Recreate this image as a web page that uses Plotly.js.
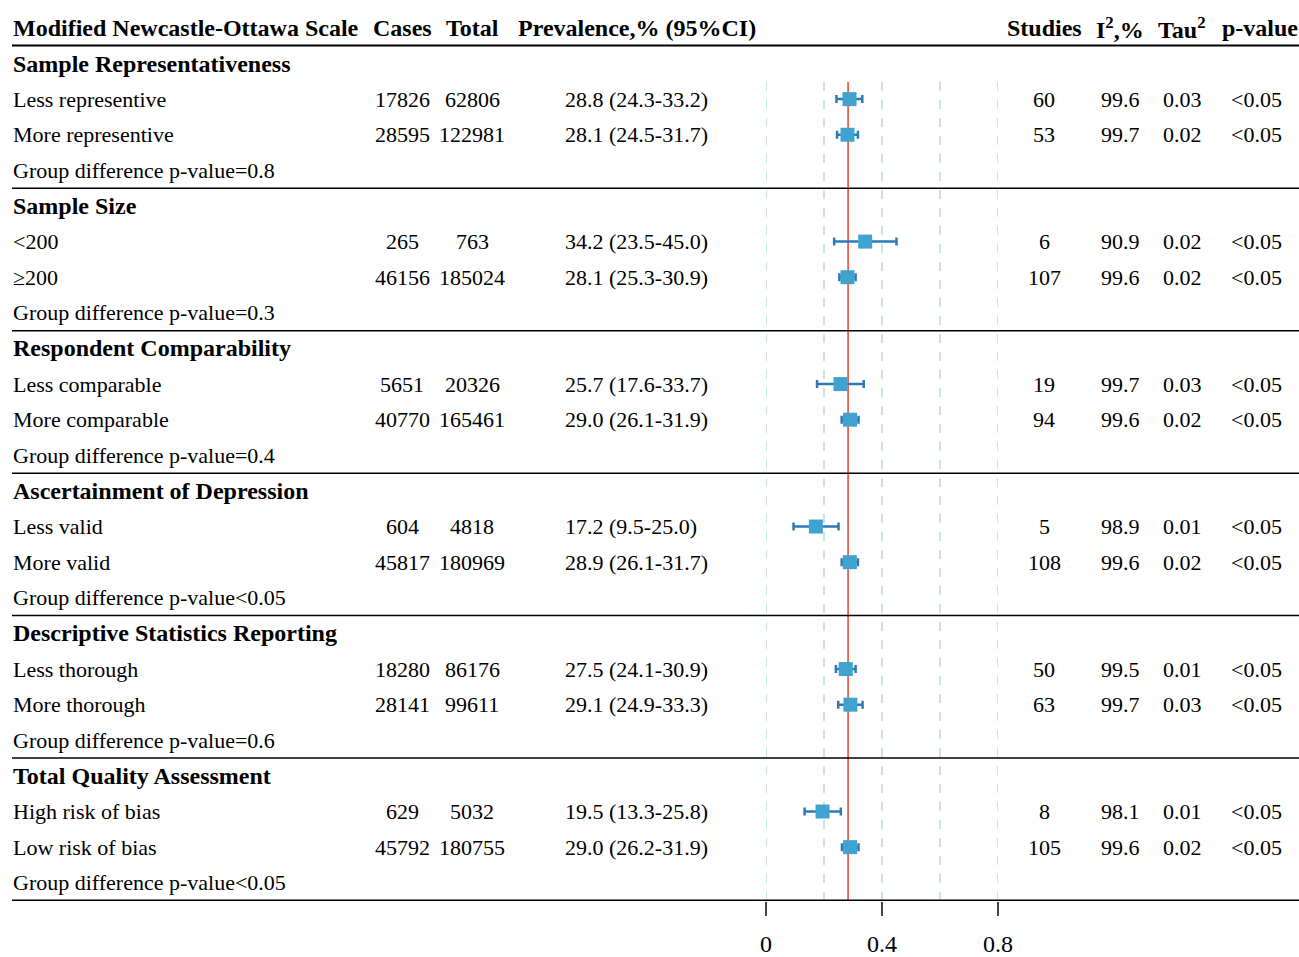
<!DOCTYPE html>
<html>
<head>
<meta charset="utf-8">
<script src="https://cdn.plot.ly/plotly-3.0.1.min.js"></script>
<style>html,body{margin:0;padding:0;background:#fff;}#chart{width:1299px;height:957px;}</style>
</head>
<body>
<div id="chart"></div>
<script>
// ---- data ----
var headers = ["Modified Newcastle-Ottawa Scale", "Cases", "Total", "Prevalence,% (95%CI)", "Studies", "I<sup>2</sup>,%", "Tau<sup>2</sup>", "p-value"];
var groups = ["Sample Representativeness", "Sample Size", "Respondent Comparability", "Ascertainment of Depression", "Descriptive Statistics Reporting", "Total Quality Assessment"];
var subgroups = ["Less representive", "More representive", "<200", "≥200", "Less comparable", "More comparable", "Less valid", "More valid", "Less thorough", "More thorough", "High risk of bias", "Low risk of bias"];
var cases = [17826, 28595, 265, 46156, 5651, 40770, 604, 45817, 18280, 28141, 629, 45792];
var totals = [62806, 122981, 763, 185024, 20326, 165461, 4818, 180969, 86176, 99611, 5032, 180755];
var prevalence = [28.8, 28.1, 34.2, 28.1, 25.7, 29.0, 17.2, 28.9, 27.5, 29.1, 19.5, 29.0];
var ciLow = [24.3, 24.5, 23.5, 25.3, 17.6, 26.1, 9.5, 26.1, 24.1, 24.9, 13.3, 26.2];
var ciHigh = [33.2, 31.7, 45.0, 30.9, 33.7, 31.9, 25.0, 31.7, 30.9, 33.3, 25.8, 31.9];
var studies = [60, 53, 6, 107, 19, 94, 5, 108, 50, 63, 8, 105];
var i2 = [99.6, 99.7, 90.9, 99.6, 99.7, 99.6, 98.9, 99.6, 99.5, 99.7, 98.1, 99.6];
var tau2 = ["0.03", "0.02", "0.02", "0.02", "0.03", "0.02", "0.01", "0.02", "0.01", "0.03", "0.01", "0.02"];
var pvals = ["<0.05", "<0.05", "<0.05", "<0.05", "<0.05", "<0.05", "<0.05", "<0.05", "<0.05", "<0.05", "<0.05", "<0.05"];
var groupDiff = ["0.8", "0.3", "0.4", "<0.05", "0.6", "<0.05"];
var overallPrev = 28.3;
var gridVals = [0, 0.2, 0.4, 0.6, 0.8];
var tickVals = [0, 0.4, 0.8];
var tickText = ["0", "0.4", "0.8"];

// ---- layout helpers ----
var W = 1299, H = 957, B = 56, PH = H - B;
var rowY0 = 63.5, rowStep = 35.62, headerY = 27.5;
function rowY(i) { return rowY0 + i * rowStep; }
var FONT = "Liberation Serif, Times New Roman, DejaVu Serif, serif";
var FS = 22, FSB = 24;
var col = {label: 11, cases: 402, total: 472, prev: 563, studies: 1044, i2: 1120, tau: 1182, p: 1256};

var ann = [];
function txt(x, y, s, anchor, bold) {
  ann.push({xref: 'x', yref: 'y', x: x, y: y, text: bold ? '<b>' + s + '</b>' : s, showarrow: false,
    xanchor: anchor, yanchor: 'middle', font: {family: FONT, size: bold ? FSB : FS, color: '#000'}});
}
// headers
txt(col.label, headerY, headers[0], 'left', true);
txt(col.cases, headerY, headers[1], 'center', true);
txt(col.total, headerY, headers[2], 'center', true);
txt(637, headerY, headers[3], 'center', true);
txt(col.studies, headerY, headers[4], 'center', true);
txt(col.i2, headerY, headers[5], 'center', true);
txt(col.tau, headerY, headers[6], 'center', true);
txt(1260, headerY, headers[7], 'center', true);

var fx = [], fy = [], ep = [], em = [];
var shapes = [];
for (var g = 0; g < groups.length; g++) {
  var base = g * 4;
  txt(col.label, rowY(base), groups[g], 'left', true);
  for (var k = 0; k < 2; k++) {
    var idx = g * 2 + k, y = rowY(base + 1 + k);
    txt(col.label, y, subgroups[idx], 'left', false);
    txt(col.cases, y, String(cases[idx]), 'center', false);
    txt(col.total, y, String(totals[idx]), 'center', false);
    txt(col.prev, y, prevalence[idx].toFixed(1) + ' (' + ciLow[idx].toFixed(1) + '-' + ciHigh[idx].toFixed(1) + ')', 'left', false);
    txt(col.studies, y, String(studies[idx]), 'center', false);
    txt(col.i2, y, i2[idx].toFixed(1), 'center', false);
    txt(col.tau, y, tau2[idx], 'center', false);
    txt(col.p, y, pvals[idx], 'center', false);
    fx.push(prevalence[idx] / 100); fy.push(y);
    ep.push((ciHigh[idx] - prevalence[idx]) / 100);
    em.push((prevalence[idx] - ciLow[idx]) / 100);
  }
  var gdTxt = groupDiff[g].charAt(0) === '<' ? 'Group difference p-value' + groupDiff[g] : 'Group difference p-value=' + groupDiff[g];
  txt(col.label, rowY(base + 3), gdTxt, 'left', false);
  var sepY = (rowY(base + 3) + rowY(base + 4)) / 2;
  shapes.push({type: 'line', xref: 'x', yref: 'y', x0: 12, x1: W, y0: sepY, y1: sepY,
    line: {color: '#000', width: (g === groups.length - 1) ? 2.2 : 1.5}});
}
// header line
shapes.push({type: 'line', xref: 'x', yref: 'y', x0: 12, x1: W, y0: 45.5, y1: 45.5, line: {color: '#000', width: 2.2}});
// grid lines (dashed)
gridVals.forEach(function (v) {
  shapes.push({type: 'line', xref: 'x2', yref: 'y', x0: v, x1: v, y0: 82, y1: PH - 1,
    line: {color: '#9fd8cd', width: 1.2, dash: 'dash'}, layer: 'below'});
});
// overall prevalence line
shapes.push({type: 'line', xref: 'x2', yref: 'y', x0: overallPrev / 100, x1: overallPrev / 100, y0: 82, y1: PH - 1,
  line: {color: '#e8402a', width: 1.5}, layer: 'below'});

var trace = {
  type: 'scatter', mode: 'markers', x: fx, y: fy, xaxis: 'x2', yaxis: 'y',
  marker: {symbol: 'square', size: 14, color: '#40a2cf', line: {width: 0}},
  error_x: {type: 'data', symmetric: false, array: ep, arrayminus: em, color: '#2e7ab6', thickness: 2.5, width: 4},
  hoverinfo: 'skip', showlegend: false, cliponaxis: false
};

var layout = {
  width: W, height: H, margin: {l: 0, r: 0, t: 0, b: B},
  paper_bgcolor: '#fff', plot_bgcolor: 'rgba(0,0,0,0)',
  xaxis: {range: [0, W], visible: false, fixedrange: true, domain: [0, 1]},
  xaxis2: {domain: [766 / W, 998 / W], range: [0, 0.8], anchor: 'y',
    showgrid: false, zeroline: false, showline: false,
    tickvals: tickVals, ticktext: tickText, ticks: 'outside', ticklen: 14, tickwidth: 1.2, tickcolor: '#444',
    ticklabelstandoff: 7,
    tickfont: {family: FONT, size: 24, color: '#000'}},
  yaxis: {range: [PH, 0], visible: false, fixedrange: true},
  annotations: ann, shapes: shapes, showlegend: false
};

Plotly.newPlot('chart', [trace], layout, {displayModeBar: false, staticPlot: true});
</script>
</body>
</html>
